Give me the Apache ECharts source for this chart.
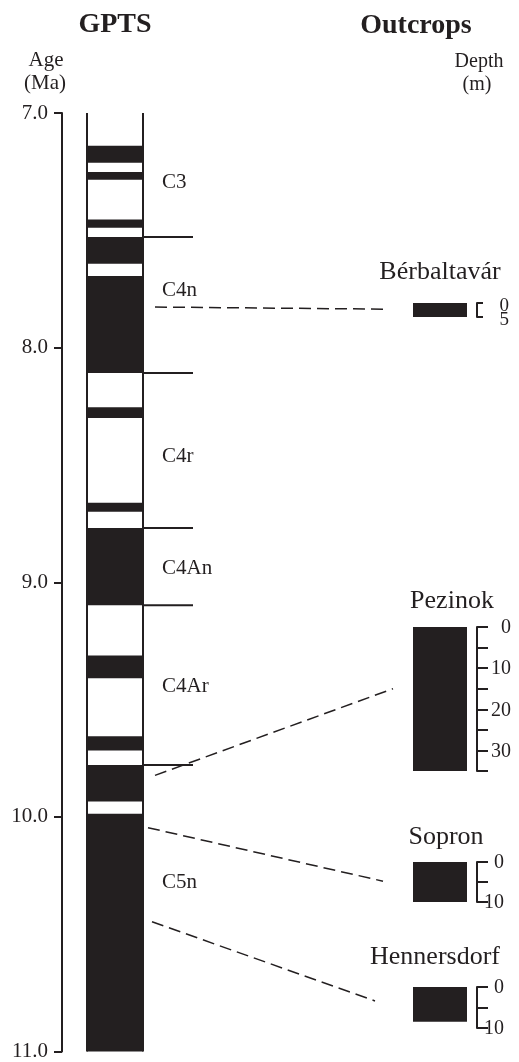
<!DOCTYPE html>
<html><head><meta charset="utf-8">
<script src="https://cdn.jsdelivr.net/npm/echarts@6/dist/echarts.min.js"></script>
<style>html,body{margin:0;padding:0;background:#fff}#c{width:519px;height:1062px}</style>
</head><body><div id="c"></div>
<script>
// ---- data ----
const ageRange = [7, 11];
const ageInterval = 1;
const normalPolarity = [[7.140,7.212],[7.251,7.285],[7.454,7.489],[7.528,7.642],[7.695,8.108],[8.254,8.300],[8.661,8.699],[8.769,9.098],[9.312,9.409],[9.656,9.717],[9.779,9.934],[9.987,11.040]];
const chronBoundaries = [7.528, 8.108, 8.769, 9.098, 9.779];
const chronNames = ['C3','C4n','C4r','C4An','C4Ar','C5n'];
const chronLabelAges = [7.295, 7.755, 8.464, 8.941, 9.443, 10.28];
const outcropNames = ['Bérbaltavár','Pezinok','Sopron','Hennersdorf'];
const outcropThickness = [5, 35, 10, 8.5];
const outcropScaleMax = [5, 35, 10, 10];
const outcropScaleStep = 5;
const outcropScaleLabels = [[0,5],[0,10,20,30],[0,10],[0,10]];
const tieAges = [7.827, 9.823, 10.046, 10.447];
const tieDepths = [2.2, 15, 4.8, 3.4];

// ---- layout / style ----
const INK = '#231f20';
const FONT = '"Liberation Serif", "Times New Roman", serif';
const outcropGrid = [{top:303,height:14},{top:627,height:144},{top:862,height:40},{top:987,height:41}];
const outcropTick = [6, 11, 11, 11];
const outcropLabelRight = [42, 44, 37, 37];   // label right edge, px right of bar
const outcropLabelDy = [3, 1, 1, 1];
const outcropLabelSize = [19, 20, 20, 20];
const nameCenterX = [440, 452, 446, 435];
const nameGapAbove = [31, 26, 25, 30];
const tieGaps = [[12,27],[12,20],[5,30],[9,38]];

const chart = echarts.init(document.getElementById('c'), null, {renderer:'canvas'});

const grids = [{left:87, top:113, width:56, height:948}];
outcropGrid.forEach(g => grids.push({left:413, width:54, top:g.top, height:g.height}));

const xAxes = grids.map((g,i) => ({gridIndex:i, type:'value', min:0, max:1, show:false}));
const yAxes = [{
  gridIndex:0, type:'value', min:ageRange[0], max:ageRange[1], interval:ageInterval, inverse:true,
  position:'left', offset:25,
  axisLine:{show:true, onZero:false, lineStyle:{color:INK, width:2}},
  axisTick:{show:true, length:8, lineStyle:{color:INK, width:2}},
  axisLabel:{formatter:v=>v.toFixed(1), fontFamily:FONT, fontSize:21, color:INK, margin:14, showMinLabel:true, showMaxLabel:true, hideOverlap:false},
  splitLine:{show:false}
}];
outcropScaleMax.forEach((m,i) => yAxes.push({
  gridIndex:i+1, type:'value', min:0, max:m, interval:outcropScaleStep, inverse:true,
  position:'right', offset:10,
  axisLine:{show:true, onZero:false, lineStyle:{color:INK, width:2}},
  axisTick:{show:true, length:outcropTick[i], lineStyle:{color:INK, width:2}},
  axisLabel:{show:false},
  splitLine:{show:false}
}));

const series = [
  { // column outline
    type:'custom', xAxisIndex:0, yAxisIndex:0, data:[[ageRange[0], ageRange[1]]], silent:true,
    renderItem(p, api){
      const a = api.coord([0, api.value(0)]), b = api.coord([1, api.value(1)]);
      return {type:'group', children:[
        {type:'line', shape:{x1:a[0], y1:a[1], x2:a[0], y2:b[1]}, style:{stroke:INK, lineWidth:2}},
        {type:'line', shape:{x1:b[0], y1:a[1], x2:b[0], y2:b[1]}, style:{stroke:INK, lineWidth:2}}
      ]};
    }
  },
  { // normal polarity bands
    type:'custom', xAxisIndex:0, yAxisIndex:0, data:normalPolarity, silent:true,
    renderItem(p, api){
      const hi = Math.min(api.value(1), ageRange[1]);
      const a = api.coord([0, api.value(0)]), b = api.coord([1, hi]);
      return {type:'rect', shape:{x:a[0], y:a[1], width:b[0]-a[0], height:b[1]-a[1]}, style:{fill:INK}};
    }
  },
  { // chron boundaries
    type:'custom', xAxisIndex:0, yAxisIndex:0, data:chronBoundaries.map(a=>[a]), silent:true, clip:false,
    renderItem(p, api){
      const a = api.coord([1, api.value(0)]);
      return {type:'line', shape:{x1:a[0], y1:a[1], x2:a[0]+50, y2:a[1]}, style:{stroke:INK, lineWidth:2}};
    }
  },
  { // chron labels
    type:'custom', xAxisIndex:0, yAxisIndex:0, data:chronLabelAges.map(a=>[a]), silent:true, clip:false,
    renderItem(p, api){
      const a = api.coord([1, api.value(0)]);
      return {type:'text', x:a[0]+19, y:a[1], style:{text:chronNames[p.dataIndex], fill:INK, font:'21px '+FONT,
        align:'left', verticalAlign:'middle', textAlign:'left', textVerticalAlign:'middle'}};
    }
  }
];
outcropThickness.forEach((t,i) => {
  series.push({
    type:'custom', xAxisIndex:i+1, yAxisIndex:i+1, data:[[0, t]], silent:true,
    renderItem(p, api){
      const a = api.coord([0, api.value(0)]), b = api.coord([1, api.value(1)]);
      return {type:'rect', shape:{x:a[0], y:a[1], width:b[0]-a[0], height:b[1]-a[1]}, style:{fill:INK}};
    }
  });
  series.push({ // depth scale labels
    type:'custom', xAxisIndex:i+1, yAxisIndex:i+1, data:outcropScaleLabels[i].map(v=>[v]), silent:true, clip:false,
    renderItem(p, api){
      const v = api.value(0);
      const a = api.coord([1, v]);
      return {type:'text', x:a[0]+outcropLabelRight[i], y:a[1]+outcropLabelDy[i],
        style:{text:String(v), fill:INK, font:outcropLabelSize[i]+'px '+FONT,
          align:'right', verticalAlign:'middle', textAlign:'right', textVerticalAlign:'middle'}};
    }
  });
});

chart.setOption({animation:false, backgroundColor:'#fff', grid:grids, xAxis:xAxes, yAxis:yAxes, series});

function txt(text, x, y, size, bold){
  return {type:'text', x, y, silent:true, style:{text, fill:INK, font:(bold?'bold ':'')+size+'px '+FONT,
    align:'center', verticalAlign:'middle', textAlign:'center', textVerticalAlign:'middle'}};
}
const g = [
  txt('GPTS', 115, 25, 28, true),
  txt('Outcrops', 416, 26, 28, true),
  txt('Age', 46, 60, 21), txt('(Ma)', 45, 83, 21),
  txt('Depth', 479, 62, 20), txt('(m)', 477, 85, 20)
];
outcropNames.forEach((n,i) => {
  const top = chart.convertToPixel({gridIndex:i+1}, [0, 0]);
  g.push(txt(n, nameCenterX[i], top[1]-nameGapAbove[i], 26));
});
tieAges.forEach((a,i) => {
  const l = chart.convertToPixel({gridIndex:0}, [1, a]);
  const r = chart.convertToPixel({gridIndex:i+1}, [0, tieDepths[i]]);
  g.push({type:'line', silent:true, shape:{x1:l[0]+tieGaps[i][0], y1:l[1], x2:r[0]-tieGaps[i][1], y2:r[1]},
    style:{stroke:INK, lineWidth:1.5, lineDash:[12,6]}});
});
chart.setOption({graphic:g});
</script></body></html>
